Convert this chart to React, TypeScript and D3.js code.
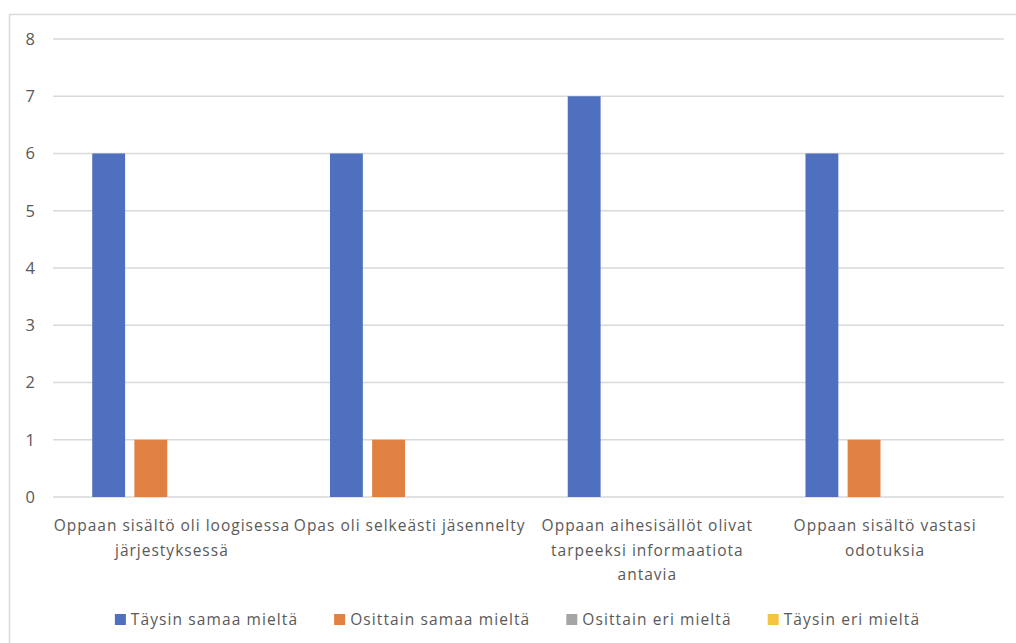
import React, { useEffect, useRef } from 'react';
import * as d3 from 'd3';

const categories: string[][] = [
  ['Oppaan sisältö oli loogisessa', 'järjestyksessä'],
  ['Opas oli selkeästi jäsennelty'],
  ['Oppaan aihesisällöt olivat', 'tarpeeksi informaatiota', 'antavia'],
  ['Oppaan sisältö vastasi', 'odotuksia'],
];
const seriesNames = ['Täysin samaa mieltä', 'Osittain samaa mieltä', 'Osittain eri mieltä', 'Täysin eri mieltä'];
const seriesColors = ['#4e70be', '#e08142', '#a5a5a5', '#f5c342'];
const taysinSamaa = [6, 6, 7, 6];
const osittainSamaa = [1, 1, 0, 1];
const osittainEri = [0, 0, 0, 0];
const taysinEri = [0, 0, 0, 0];
const yTicks = [0, 1, 2, 3, 4, 5, 6, 7, 8];

const W = 1016;
const H = 643;
const FONT = '"Open Sans", "Noto Sans", sans-serif';

const App: React.FC = () => {
  const ref = useRef<SVGSVGElement>(null);

  useEffect(() => {
    const svg = d3.select(ref.current);
    svg.selectAll('*').remove();
    const values = [taysinSamaa, osittainSamaa, osittainEri, taysinEri];
    const left = 53, right = 1004, top = 39, bottom = 497;

    // chart frame
    svg.append('rect').attr('x', 9.5).attr('y', 14.5).attr('width', W + 20).attr('height', H + 20)
      .attr('fill', 'white').attr('stroke', '#d9d9d9').attr('stroke-width', 1.5);

    const y = d3.scaleLinear().domain([0, 8]).range([bottom, top]);
    const x0 = d3.scaleBand<number>().domain(d3.range(categories.length)).range([left, right]).paddingInner(0.33).paddingOuter(0.165);
    const x1 = d3.scaleBand<number>().domain(d3.range(seriesNames.length)).range([0, x0.bandwidth()]).paddingInner(0.22);

    const grid = svg.append('g');
    yTicks.forEach(t => {
      grid.append('line').attr('x1', left).attr('x2', right).attr('y1', y(t)).attr('y2', y(t))
        .attr('stroke', '#d9d9d9').attr('stroke-width', 1.3);
      grid.append('text').attr('x', 35).attr('y', y(t)).attr('dy', '0.35em').attr('text-anchor', 'end')
        .attr('font-family', FONT).attr('font-size', 16.5).attr('fill', '#595959').text(String(t));
    });

    const bars = svg.append('g');
    categories.forEach((_, ci) => {
      values.forEach((arr, si) => {
        const v = arr[ci];
        if (v <= 0) return;
        bars.append('rect')
          .attr('x', (x0(ci) ?? 0) + (x1(si) ?? 0))
          .attr('y', y(v)).attr('width', x1.bandwidth()).attr('height', y(0) - y(v))
          .attr('fill', seriesColors[si]);
      });
    });

    const labels = svg.append('g');
    categories.forEach((lines, ci) => {
      const cx = (x0(ci) ?? 0) + x0.bandwidth() / 2;
      const t = labels.append('text').attr('text-anchor', 'middle').attr('font-family', FONT)
        .attr('font-size', 15.5).attr('letter-spacing', 1).attr('fill', '#595959');
      lines.forEach((ln, li) => {
        t.append('tspan').attr('x', cx).attr('y', 531 + li * 24.5).text(ln);
      });
    });

    // legend, centred
    const leg = svg.append('g');
    const items = seriesNames.map((name, i) => {
      const g = leg.append('g');
      g.append('rect').attr('x', 0).attr('y', 614).attr('width', 11).attr('height', 11).attr('fill', seriesColors[i]);
      const txt = g.append('text').attr('x', 16).attr('y', 620).attr('dy', '0.35em')
        .attr('font-family', FONT).attr('font-size', 15.5).attr('letter-spacing', 1.1)
        .attr('fill', '#595959').text(name);
      const w = (txt.node() as SVGTextElement).getComputedTextLength();
      return { g, w: 16 + w };
    });
    const gap = 36;
    const total = d3.sum(items, d => d.w) + gap * (items.length - 1);
    let pos = 517.5 - total / 2;
    items.forEach(it => {
      it.g.attr('transform', `translate(${pos},0)`);
      pos += it.w + gap;
    });
  }, []);

  return (
    <svg ref={ref} width={W} height={H} viewBox={`0 0 ${W} ${H}`}
      style={{ position: 'absolute', left: 0, top: 0, background: 'white' }} />
  );
};

export default App;
